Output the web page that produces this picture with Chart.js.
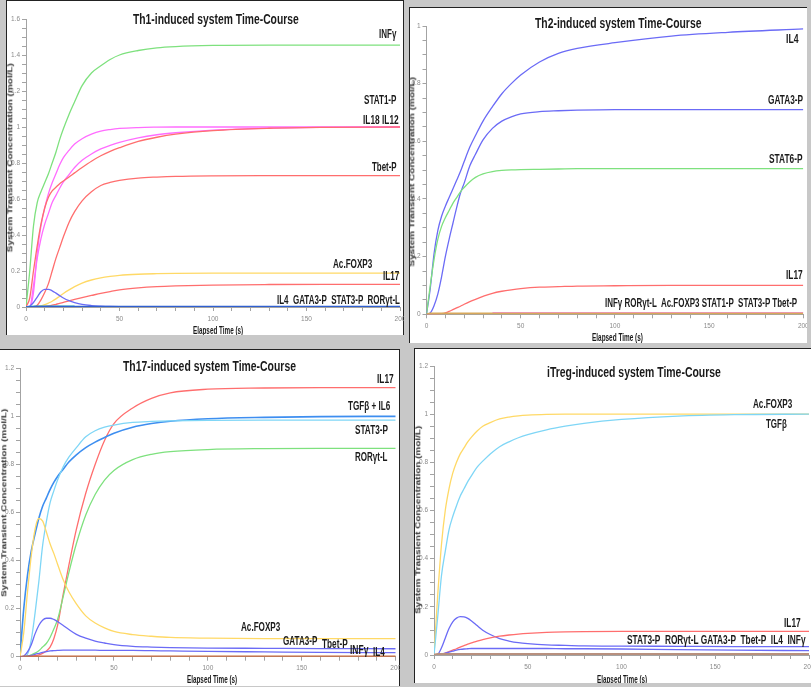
<!DOCTYPE html>
<html>
<head>
<meta charset="utf-8">
<script src="https://cdn.jsdelivr.net/npm/chart.js@4.4.1/dist/chart.umd.min.js"></script>
<style>
  html, body { margin: 0; padding: 0; }
  body { width: 811px; height: 687px; background: #c8c8c8; position: relative; overflow: hidden; }
  .panel { position: absolute; background: #fff; overflow: hidden; }
  .panel canvas { position: absolute; }
  .txt { position: absolute; white-space: pre; font-weight: bold; color: #1a1a1a; line-height: 1;
         font-family: "Liberation Sans Narrow", "Arial Narrow", "Liberation Sans", Arial, sans-serif;
         transform-origin: 0 50%; }
  .ytitle { font-family: "Liberation Sans", Arial, sans-serif; color: #333; }
</style>
</head>
<body>
<div class="panel" id="p1"><canvas id="c1"></canvas></div>
<div class="panel" id="p2"><canvas id="c2"></canvas></div>
<div class="panel" id="p3"><canvas id="c3"></canvas></div>
<div class="panel" id="p4"><canvas id="c4"></canvas></div>
<script>
// time axis (s), shared by all four simulations
const timePoints = [0, 2, 4, 6, 8, 10, 12, 14, 16, 18, 20, 23, 26, 30, 35, 40, 45, 50, 60, 70, 80, 100, 130, 160, 200]
const xTicks = [0, 50, 100, 150, 200]

// Th1-induced
const th1Infg   = [0, 0.2, 0.45, 0.58, 0.64, 0.69, 0.74, 0.8, 0.86, 0.93, 0.99, 1.07, 1.14, 1.23, 1.3, 1.34, 1.375, 1.4, 1.425, 1.44, 1.447, 1.453, 1.455, 1.455, 1.455]
const th1Stat1p = [0, 0, 0.08, 0.3, 0.45, 0.55, 0.63, 0.69, 0.74, 0.79, 0.83, 0.87, 0.905, 0.935, 0.96, 0.977, 0.986, 0.992, 0.997, 0.999, 1, 1, 1, 1, 1]
const th1Il18   = [0, 0, 0.12, 0.27, 0.38, 0.46, 0.52, 0.58, 0.62, 0.66, 0.695, 0.735, 0.775, 0.815, 0.85, 0.878, 0.898, 0.915, 0.94, 0.957, 0.968, 0.983, 0.994, 0.998, 1]
const th1Il12   = [0, 0.05, 0.2, 0.34, 0.46, 0.55, 0.61, 0.645, 0.665, 0.685, 0.7, 0.722, 0.745, 0.775, 0.81, 0.84, 0.865, 0.885, 0.92, 0.943, 0.96, 0.98, 0.993, 0.998, 1]
const th1Tbetp  = [0, 0, 0, 0.01, 0.04, 0.08, 0.13, 0.2, 0.27, 0.33, 0.39, 0.47, 0.53, 0.59, 0.64, 0.675, 0.692, 0.703, 0.716, 0.722, 0.726, 0.729, 0.73, 0.73, 0.73]
const th1Foxp3  = [0, 0, 0, 0.002, 0.006, 0.013, 0.022, 0.032, 0.045, 0.06, 0.075, 0.095, 0.113, 0.133, 0.15, 0.162, 0.17, 0.176, 0.182, 0.185, 0.187, 0.188, 0.188, 0.188, 0.188]
const th1Il17   = [0, 0, 0, 0, 0.001, 0.003, 0.006, 0.01, 0.015, 0.02, 0.026, 0.034, 0.042, 0.052, 0.064, 0.076, 0.086, 0.095, 0.106, 0.113, 0.117, 0.122, 0.125, 0.126, 0.126]
const th1Stat6p = [0, 0.005, 0.025, 0.055, 0.085, 0.098, 0.098, 0.09, 0.077, 0.063, 0.05, 0.035, 0.024, 0.014, 0.008, 0.005, 0.003, 0.002, 0.001, 0, 0, 0, 0, 0, 0]
const th1Il4    = [0, 0.001, 0.002, 0.003, 0.003, 0.003, 0.003, 0.003, 0.003, 0.003, 0.003, 0.003, 0.003, 0.003, 0.003, 0.003, 0.003, 0.003, 0.003, 0.003, 0.003, 0.003, 0.003, 0.003, 0.003]
const th1Tgfb   = [0, 0.002, 0.004, 0.004, 0.004, 0.004, 0.004, 0.004, 0.004, 0.004, 0.004, 0.004, 0.004, null, null, null, null, null, null, null, null, null, null, null, null]

// Th2-induced
const th2Il4    = [0, 0.09, 0.21, 0.29, 0.34, 0.375, 0.405, 0.435, 0.465, 0.495, 0.53, 0.58, 0.62, 0.67, 0.72, 0.765, 0.8, 0.83, 0.875, 0.905, 0.922, 0.942, 0.965, 0.978, 0.99]
const th2Gata3p = [0, 0.005, 0.03, 0.07, 0.13, 0.2, 0.26, 0.315, 0.37, 0.42, 0.455, 0.515, 0.555, 0.605, 0.645, 0.67, 0.685, 0.695, 0.703, 0.706, 0.708, 0.71, 0.71, 0.71, 0.71]
const th2Stat6p = [0, 0.1, 0.19, 0.26, 0.305, 0.335, 0.36, 0.385, 0.405, 0.425, 0.44, 0.46, 0.475, 0.487, 0.495, 0.499, 0.501, 0.502, 0.503, 0.504, 0.505, 0.505, 0.505, 0.505, 0.505]
const th2Il17   = [0, 0, 0, 0, 0.002, 0.005, 0.01, 0.016, 0.022, 0.028, 0.035, 0.044, 0.052, 0.062, 0.073, 0.08, 0.085, 0.089, 0.094, 0.096, 0.098, 0.099, 0.1, 0.1, 0.1]
const th2Infg   = [0, 0.002, 0.002, 0.002, 0.002, 0.002, 0.002, 0.002, 0.002, 0.002, 0.002, 0.002, 0.002, 0.002, 0.002, 0.002, 0.002, 0.002, 0.002, 0.002, 0.002, 0.002, 0.002, 0.002, 0.002]
const th2Stat1p = [null, null, null, null, null, null, null, null, null, null, null, null, null, null, 0.006, 0.006, 0.006, 0.006, 0.006, 0.006, 0.006, 0.006, 0.006, 0.006, 0.006]

// Th17-induced
const th17Il17   = [0, 0, 0, 0.002, 0.004, 0.008, 0.014, 0.024, 0.04, 0.075, 0.13, 0.26, 0.38, 0.53, 0.68, 0.8, 0.9, 0.97, 1.035, 1.075, 1.098, 1.113, 1.118, 1.12, 1.12]
const th17TgfIl6 = [0, 0.2, 0.34, 0.44, 0.51, 0.575, 0.625, 0.66, 0.695, 0.725, 0.75, 0.78, 0.81, 0.84, 0.87, 0.893, 0.912, 0.93, 0.955, 0.97, 0.98, 0.99, 0.996, 0.999, 1]
const th17Stat3p = [0, 0, 0.01, 0.07, 0.18, 0.31, 0.46, 0.56, 0.64, 0.69, 0.735, 0.79, 0.83, 0.87, 0.915, 0.94, 0.955, 0.964, 0.975, 0.979, 0.981, 0.983, 0.984, 0.984, 0.984]
const th17Rorgt  = [0, 0, 0.002, 0.008, 0.015, 0.025, 0.04, 0.055, 0.08, 0.115, 0.155, 0.25, 0.35, 0.47, 0.59, 0.675, 0.735, 0.775, 0.82, 0.842, 0.853, 0.862, 0.866, 0.867, 0.867]
const th17Foxp3  = [0, 0.1, 0.27, 0.42, 0.53, 0.575, 0.565, 0.52, 0.47, 0.43, 0.385, 0.32, 0.27, 0.22, 0.17, 0.14, 0.12, 0.105, 0.092, 0.085, 0.08, 0.077, 0.075, 0.075, 0.075]
const th17Gata3p = [0, 0.003, 0.02, 0.05, 0.095, 0.13, 0.152, 0.16, 0.16, 0.155, 0.146, 0.13, 0.113, 0.093, 0.077, 0.065, 0.057, 0.05, 0.043, 0.04, 0.038, 0.036, 0.035, 0.034, 0.033]
const th17Tbetp  = [0, 0, 0.002, 0.005, 0.01, 0.014, 0.018, 0.021, 0.024, 0.025, 0.026, 0.027, 0.027, 0.027, 0.027, 0.027, 0.026, 0.026, 0.026, 0.025, 0.024, 0.022, 0.02, 0.018, 0.017]
const th17Il4    = [0, 0.002, 0.002, 0.002, 0.002, 0.002, 0.002, 0.002, 0.002, 0.002, 0.002, 0.002, 0.002, 0.002, 0.002, 0.002, 0.002, 0.002, 0.002, 0.002, 0.002, 0.002, 0.002, 0.002, 0.002]

// iTreg-induced
const itregFoxp3 = [0, 0.25, 0.46, 0.6, 0.69, 0.755, 0.8, 0.835, 0.86, 0.885, 0.905, 0.93, 0.95, 0.965, 0.98, 0.988, 0.993, 0.996, 0.999, 1, 1, 1, 1, 1, 1]
const itregTgfb  = [0, 0.16, 0.33, 0.43, 0.52, 0.575, 0.62, 0.66, 0.69, 0.72, 0.745, 0.78, 0.805, 0.835, 0.865, 0.885, 0.902, 0.915, 0.935, 0.95, 0.962, 0.978, 0.992, 0.998, 1]
const itregGata3 = [0, 0.003, 0.03, 0.07, 0.11, 0.138, 0.153, 0.159, 0.158, 0.152, 0.141, 0.122, 0.103, 0.085, 0.068, 0.058, 0.051, 0.047, 0.042, 0.04, 0.038, 0.037, 0.036, 0.035, 0.035]
const itregIl17  = [0, 0, 0.003, 0.008, 0.014, 0.02, 0.026, 0.033, 0.039, 0.045, 0.05, 0.058, 0.064, 0.071, 0.078, 0.083, 0.087, 0.09, 0.094, 0.096, 0.097, 0.098, 0.098, 0.098, 0.098]
const itregTbetp = [0, 0.001, 0.004, 0.008, 0.012, 0.016, 0.02, 0.023, 0.025, 0.026, 0.027, 0.027, 0.027, 0.027, 0.027, 0.027, 0.027, 0.027, 0.027, 0.026, 0.026, 0.025, 0.022, 0.02, 0.018]
const itregIl4   = [0, 0.003, 0.003, 0.003, 0.003, 0.003, 0.003, 0.003, 0.003, 0.003, 0.003, 0.003, 0.003, 0.003, 0.003, 0.003, 0.003, 0.003, 0.003, 0.003, 0.003, 0.003, 0.003, 0.003, 0.003]

const GREEN = "#7ee17e", MAGENTA = "#ff6cff", RED = "#ff6e6e", YELLOW = "#ffd966"
const BLUE = "#6b6bf6", CYAN = "#7fd6f6", DODGER = "#3d8ef0"

const panels = [
  {
    id: "p1", canvas: "c1", left: 6, top: 0, width: 398, height: 335, ymax: 1.6,
    shadow: "inset 1px 1px 0 #222, inset -1px 0 0 #222",
    area: { left: 20, right: 4, top: 19, bottom: 10 },
    series: [
      { label: "IL4", values: th1Il4, color: "#2f5fd0", width: 1.5 },
      { label: "TGFb", values: th1Tgfb, color: "#36b8b8", width: 1.5 },
      { label: "STAT6-P", values: th1Stat6p, color: BLUE },
      { label: "IL17", values: th1Il17, color: RED },
      { label: "Ac.FOXP3", values: th1Foxp3, color: YELLOW },
      { label: "Tbet-P", values: th1Tbetp, color: RED },
      { label: "IL12", values: th1Il12, color: RED },
      { label: "IL18", values: th1Il18, color: MAGENTA },
      { label: "STAT1-P", values: th1Stat1p, color: MAGENTA },
      { label: "INFγ", values: th1Infg, color: GREEN }
    ],
    texts: [
      { text: "Th1-induced system Time-Course", x: 132.7, y: 18, w: 166, size: 15 },
      { text: "INFγ", x: 379.3, y: 34.5, w: 17.3, size: 12.5 },
      { text: "STAT1-P", x: 364.3, y: 100.5, w: 32.3, size: 12.5 },
      { text: "IL18 IL12", x: 363.3, y: 120, w: 36, size: 12.5 },
      { text: "Tbet-P", x: 372, y: 167.3, w: 24.7, size: 12.5 },
      { text: "Ac.FOXP3", x: 332.7, y: 264, w: 39, size: 12.5 },
      { text: "IL17", x: 382.7, y: 276.7, w: 16.3, size: 12.5 },
      { text: "IL4  GATA3-P  STAT3-P  RORγt-L", x: 276.7, y: 300, w: 122.7, size: 12.5 },
      { text: "Elapsed Time (s)", x: 193.3, y: 330.7, w: 50, size: 10.5 },
      { text: "System Transient Concentration (mol/L)", x: 10, y: 157.5, w: 189, size: 7.5, rotate: true }
    ]
  },
  {
    id: "p2", canvas: "c2", left: 409, top: 7, width: 398, height: 336, ymax: 1,
    shadow: "inset 1px 1px 0 #222",
    area: { left: 17.5, right: 3.7, top: 19, bottom: 10.7 },
    series: [
      { label: "INFγ", values: th2Infg, color: "#d8a85a", width: 2.2 },
      { label: "STAT1-P", values: th2Stat1p, color: "#ff88ff" },
      { label: "IL17", values: th2Il17, color: RED },
      { label: "STAT6-P", values: th2Stat6p, color: GREEN },
      { label: "GATA3-P", values: th2Gata3p, color: BLUE },
      { label: "IL4", values: th2Il4, color: BLUE }
    ],
    texts: [
      { text: "Th2-induced system Time-Course", x: 535, y: 22.7, w: 166.7, size: 15 },
      { text: "IL4", x: 785.5, y: 39, w: 12.5, size: 12.5 },
      { text: "GATA3-P", x: 768.3, y: 100.7, w: 35, size: 12.5 },
      { text: "STAT6-P", x: 769, y: 159.3, w: 33.3, size: 12.5 },
      { text: "IL17", x: 785.7, y: 275.3, w: 16.7, size: 12.5 },
      { text: "INFγ RORγt-L  Ac.FOXP3 STAT1-P  STAT3-P Tbet-P", x: 605, y: 303.3, w: 192.3, size: 12.5 },
      { text: "Elapsed Time (s)", x: 591.7, y: 337.3, w: 50.7, size: 10.5 },
      { text: "System Transient Concentration (mol/L)", x: 412.3, y: 172, w: 189.4, size: 7.5, rotate: true }
    ]
  },
  {
    id: "p3", canvas: "c3", left: 0, top: 349, width: 400, height: 337, ymax: 1.2,
    shadow: "inset 0 1px 0 #222, inset -1px 0 0 #222",
    area: { left: 20, right: 4.3, top: 19.3, bottom: 11.3 },
    series: [
      { label: "IL4", values: th17Il4, color: "#c8683a", width: 1.6 },
      { label: "Tbet-P", values: th17Tbetp, color: BLUE },
      { label: "GATA3-P", values: th17Gata3p, color: BLUE },
      { label: "Ac.FOXP3", values: th17Foxp3, color: YELLOW },
      { label: "RORγt-L", values: th17Rorgt, color: GREEN },
      { label: "STAT3-P", values: th17Stat3p, color: CYAN },
      { label: "TGFβ + IL6", values: th17TgfIl6, color: DODGER, width: 1.6 },
      { label: "IL17", values: th17Il17, color: RED }
    ],
    texts: [
      { text: "Th17-induced system Time-Course", x: 122.7, y: 365, w: 173, size: 15 },
      { text: "IL17", x: 376.7, y: 379, w: 16.7, size: 12.5 },
      { text: "TGFβ + IL6", x: 348.3, y: 406.7, w: 42.3, size: 12.5 },
      { text: "STAT3-P", x: 355, y: 430, w: 32.7, size: 12.5 },
      { text: "RORγt-L", x: 355, y: 457.7, w: 32.7, size: 12.5 },
      { text: "Ac.FOXP3", x: 241, y: 627.3, w: 39, size: 12.5 },
      { text: "GATA3-P", x: 283.3, y: 641.7, w: 34.3, size: 12.5 },
      { text: "Tbet-P", x: 321.7, y: 644.3, w: 25.7, size: 12.5 },
      { text: "INFγ", x: 350, y: 650, w: 18.3, size: 12.5 },
      { text: "IL4", x: 372.7, y: 652.3, w: 11.7, size: 12.5 },
      { text: "Elapsed Time (s)", x: 186.7, y: 679.3, w: 50, size: 10.5 },
      { text: "System Transient Concentration (mol/L)", x: 3.5, y: 502.5, w: 188, size: 7.5, rotate: true }
    ]
  },
  {
    id: "p4", canvas: "c4", left: 414, top: 348, width: 397, height: 335, ymax: 1.2,
    shadow: "inset 1px 1px 0 #222",
    area: { left: 20, right: 2, top: 18, bottom: 10 },
    series: [
      { label: "IL4", values: itregIl4, color: "#b8907e", width: 2.4 },
      { label: "Tbet-P", values: itregTbetp, color: BLUE },
      { label: "IL17", values: itregIl17, color: RED },
      { label: "GATA3-P", values: itregGata3, color: BLUE },
      { label: "TGFβ", values: itregTgfb, color: CYAN },
      { label: "Ac.FOXP3", values: itregFoxp3, color: YELLOW }
    ],
    texts: [
      { text: "iTreg-induced system Time-Course", x: 546.7, y: 371.7, w: 174, size: 15 },
      { text: "Ac.FOXP3", x: 752.7, y: 404, w: 39, size: 12.5 },
      { text: "TGFβ", x: 765.7, y: 424.3, w: 21, size: 12.5 },
      { text: "IL17", x: 784.3, y: 623.3, w: 16.7, size: 12.5 },
      { text: "STAT3-P  RORγt-L GATA3-P  Tbet-P  IL4  INFγ", x: 626.7, y: 640, w: 178.3, size: 12.5 },
      { text: "Elapsed Time (s)", x: 597.3, y: 679.3, w: 50, size: 10.5 },
      { text: "System Transient Concentration (mol/L)", x: 417.5, y: 520, w: 188, size: 7.5, rotate: true }
    ]
  }
]

function yLabel(v) {
  const r = Math.round(v * 100) / 100
  return Math.abs(r * 5 - Math.round(r * 5)) < 1e-6 ? String(r) : ""
}

function addText(p, el0, t) {
  const el = document.createElement("div")
  el.className = t.rotate ? "txt ytitle" : "txt"
  el.textContent = t.text
  el.style.fontSize = t.size + "px"
  el0.appendChild(el)
  const natural = el.offsetWidth
  const k = t.w / natural
  el.style.top = (t.y - p.top - t.size / 2) + "px"
  if (t.rotate) {
    el.style.left = (t.x - p.left - natural / 2) + "px"
    el.style.transformOrigin = "50% 50%"
    el.style.transform = `rotate(-90deg) scaleX(${k})`
  } else {
    el.style.left = (t.x - p.left) + "px"
    el.style.transform = `scaleX(${k})`
  }
}

function buildPanel(p) {
  const box = document.getElementById(p.id)
  box.style.left = p.left + "px"
  box.style.top = p.top + "px"
  box.style.width = p.width + "px"
  box.style.height = p.height + "px"
  box.style.boxShadow = p.shadow

  const canvas = document.getElementById(p.canvas)
  canvas.width = p.width
  canvas.height = p.height
  canvas.style.width = p.width + "px"
  canvas.style.height = p.height + "px"

  const axisColor = "#a3a3a3"
  const tickFont = { size: 6.5, family: "Liberation Sans, Arial, sans-serif" }

  new Chart(canvas, {
    type: "line",
    data: {
      datasets: p.series.map(s => ({
        label: s.label,
        data: timePoints.map((t, i) => ({ x: t, y: s.values[i] })),
        borderColor: s.color,
        borderWidth: s.width || 1.3,
        pointRadius: 0,
        fill: false,
        cubicInterpolationMode: "monotone",
        spanGaps: false
      }))
    },
    options: {
      responsive: false,
      animation: false,
      events: [],
      layout: { padding: { left: 0, top: p.area.top, right: p.area.right, bottom: p.area.bottom } },
      plugins: { legend: { display: false }, title: { display: false }, tooltip: { enabled: false } },
      scales: {
        x: {
          type: "linear", min: 0, max: 200,
          afterFit: s => { s.height = 18; s.paddingLeft = 0; s.paddingRight = 0 },
          ticks: {
            stepSize: 10, autoSkip: false, maxRotation: 0, padding: 4, color: "#8a8a8a", font: tickFont,
            callback: v => xTicks.includes(v) ? String(v) : ""
          },
          grid: { drawOnChartArea: false, drawTicks: true, tickLength: 4, color: axisColor },
          border: { color: axisColor }
        },
        y: {
          min: 0, max: p.ymax,
          afterFit: s => { s.width = p.area.left },
          ticks: { stepSize: 0.05, autoSkip: false, padding: 2, color: "#8a8a8a", font: tickFont, callback: yLabel },
          grid: { drawOnChartArea: false, drawTicks: true, tickLength: 4, color: axisColor },
          border: { color: axisColor }
        }
      }
    }
  })

  p.texts.forEach(t => addText(p, box, t))
}

panels.forEach(buildPanel)
</script>
</body>
</html>
